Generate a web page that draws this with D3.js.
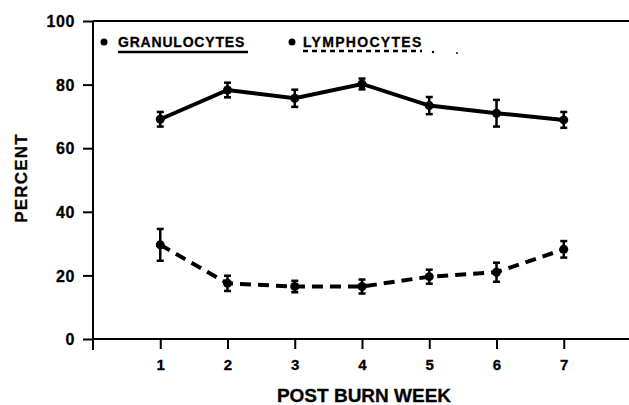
<!DOCTYPE html>
<html>
<head>
<meta charset="utf-8">
<script src="https://cdn.jsdelivr.net/npm/d3@7"></script>
<style>
  body { margin: 0; background: #fff; }
  text { font-family: "Liberation Sans", Arial, sans-serif; font-weight: bold; fill: #000; stroke: #000; stroke-width: 0.3px; }
</style>
</head>
<body>
<svg id="chart" width="629" height="405"></svg>
<script>
const weeks = [1, 2, 3, 4, 5, 6, 7]
const granulocytes = [69.1, 78.3, 75.7, 80.2, 73.4, 71.0, 68.9]
const granErr = [2.3, 2.3, 2.7, 1.7, 2.7, 4.2, 2.5]
const lymphocytes = [29.6, 17.5, 16.5, 16.5, 19.6, 21.0, 28.2]
const lymphErr = [5.0, 2.4, 1.8, 2.2, 2.2, 3.0, 2.6]
const yTicks = [0, 20, 40, 60, 80, 100]

const svg = d3.select('#chart')
const x = d3.scaleLinear().domain([0, 8]).range([93, 631])
const y = d3.scaleLinear().domain([0, 100]).range([339, 21])

// axes
const yAxis = svg.append('g')
    .attr('transform', `translate(${x(0)},0)`)
    .call(d3.axisLeft(y).tickValues(yTicks).tickSize(10).tickSizeOuter(0))
yAxis.select('.domain').attr('stroke-width', 2).attr('d', `M0,${y(100)}V${y(0) + 11}`)
yAxis.selectAll('.tick line').attr('stroke-width', 2)
yAxis.selectAll('.tick text')
    .attr('x', -18).attr('dy', '0.36em')
    .style('font-size', '16px').style('letter-spacing', '0.6px')

const xAxis = svg.append('g')
    .attr('transform', `translate(0,${y(0)})`)
    .call(d3.axisBottom(x).tickValues(weeks).tickSize(10).tickSizeOuter(0))
xAxis.select('.domain').attr('stroke-width', 2).attr('d', `M${x(0)},0H629`)
xAxis.selectAll('.tick line').attr('stroke-width', 2)
xAxis.selectAll('.tick text').attr('y', 20).style('font-size', '15px')

// top frame line
svg.append('line')
    .attr('x1', x(0)).attr('x2', 629)
    .attr('y1', y(100)).attr('y2', y(100))
    .attr('stroke', '#000').attr('stroke-width', 2)

// axis titles
svg.append('text')
    .attr('transform', `translate(27,${(y(0) + y(100)) / 2 - 2}) rotate(-90)`)
    .attr('text-anchor', 'middle')
    .style('font-size', '17px').style('letter-spacing', '1.2px')
    .text('PERCENT')

svg.append('text')
    .attr('x', 364).attr('y', 402)
    .attr('text-anchor', 'middle')
    .style('font-size', '19px')
    .text('POST BURN WEEK')

function drawSeries(values, errs, dash) {
    const pts = weeks.map((w, i) => ({ w, v: values[i], e: errs[i] }))
    const g = svg.append('g')
    g.append('path')
        .datum(pts)
        .attr('fill', 'none')
        .attr('stroke', '#000')
        .attr('stroke-width', 4)
        .attr('stroke-dasharray', dash)
        .attr('d', d3.line().x(d => x(d.w)).y(d => y(d.v)))
    const bars = g.selectAll('.err').data(pts).join('g')
    bars.append('line')
        .attr('x1', d => x(d.w)).attr('x2', d => x(d.w))
        .attr('y1', d => y(d.v - d.e)).attr('y2', d => y(d.v + d.e))
        .attr('stroke', '#000').attr('stroke-width', 2.5)
    bars.selectAll('.cap').data(d => [d.v - d.e, d.v + d.e].map(v => ({ w: d.w, v })))
        .join('line')
        .attr('x1', d => x(d.w) - 3.5).attr('x2', d => x(d.w) + 3.5)
        .attr('y1', d => y(d.v)).attr('y2', d => y(d.v))
        .attr('stroke', '#000').attr('stroke-width', 2.5)
    bars.append('circle')
        .attr('cx', d => x(d.w)).attr('cy', d => y(d.v))
        .attr('r', 4.5).attr('fill', '#000')
}

drawSeries(granulocytes, granErr, null)
drawSeries(lymphocytes, lymphErr, '11,7')

// legend
const legend = svg.append('g')
legend.append('circle').attr('cx', 104).attr('cy', 42).attr('r', 3.5).attr('fill', '#000')
legend.append('text').attr('x', 118).attr('y', 47)
    .style('font-size', '14px').style('letter-spacing', '0.8px').text('GRANULOCYTES')
legend.append('line').attr('x1', 118).attr('x2', 248).attr('y1', 52).attr('y2', 52)
    .attr('stroke', '#000').attr('stroke-width', 2.5)
legend.append('circle').attr('cx', 292).attr('cy', 42).attr('r', 3.5).attr('fill', '#000')
legend.append('text').attr('x', 303).attr('y', 47)
    .style('font-size', '14px').style('letter-spacing', '1.3px').text('LYMPHOCYTES')
legend.append('line').attr('x1', 303).attr('x2', 422).attr('y1', 51).attr('y2', 51)
    .attr('stroke', '#000').attr('stroke-width', 2.5).attr('stroke-dasharray', '5,4')
legend.append('circle').attr('cx', 433).attr('cy', 52).attr('r', 1.2).attr('fill', '#000')
legend.append('circle').attr('cx', 457).attr('cy', 53).attr('r', 0.9).attr('fill', '#000')
</script>
</body>
</html>
